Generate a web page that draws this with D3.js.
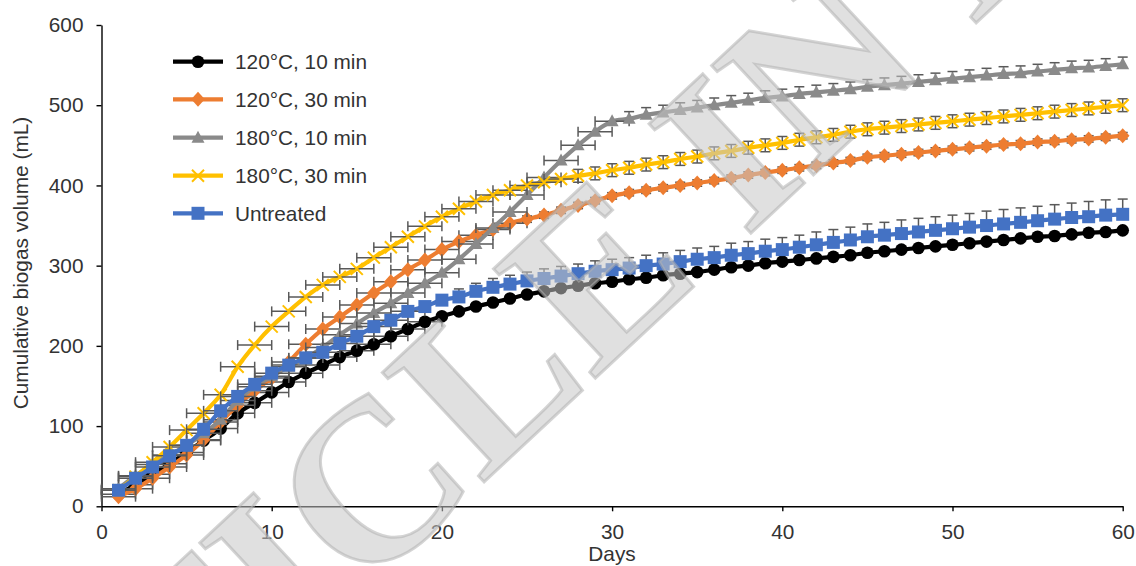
<!DOCTYPE html>
<html>
<head>
<meta charset="utf-8">
<script src="https://cdn.jsdelivr.net/npm/d3@7"></script>
<style>
html,body{margin:0;padding:0;background:#fff;}
svg{display:block;font-family:"Liberation Sans",Arial,sans-serif;}
</style>
</head>
<body>
<svg id="chart" width="1136" height="566"></svg>
<script>
const days = [1,2,3,4,5,6,7,8,9,10,11,12,13,14,15,16,17,18,19,20,21,22,23,24,25,26,27,28,29,30,
  31,32,33,34,35,36,37,38,39,40,41,42,43,44,45,46,47,48,49,50,51,52,53,54,55,56,57,58,59,60];

const seriesNames = ["120°C, 10 min","120°C, 30 min","180°C, 10 min","180°C, 30 min","Untreated"];

const black = [15,27,40,53,67,82,97,116,129,142, 155,166,176,186,194,202,212,221,230,237,
  243,249,254,259,264,268,272,275,278,280, 283,285,288,290,292,295,298,300,303,305,
  307,309,311,313,316,318,320,322,324,326, 328,330,332,334,336,337,339,341,342,344];
const orange = [12,22,35,49,64,83,105,126,144,160, 180,202,221,236,251,266,280,295,307,320,
  330,338,345,353,358,363,369,375,381,387, 391,394,397,400,403,406,409,413,416,419,
  422,425,428,431,435,437,439,441,443,445, 447,449,451,452,454,455,457,458,460,462];
const gray = [22,38,52,64,76,91,108,132,149,162, 174,185,198,214,228,241,253,266,278,291,
  308,327,347,367,388,410,431,450,467,480, 483,488,491,494,497,500,503,506,509,511,
  514,516,518,520,523,525,527,529,531,533, 535,537,539,540,542,544,546,547,549,551];
const yellow = [20,37,55,74,95,116,139,174,201,224, 243,261,276,286,296,310,323,336,349,361,
  371,380,388,394,400,404,408,412,415,419, 422,426,429,433,436,440,443,447,450,453,
  457,460,463,467,470,472,474,476,478,480, 482,484,486,488,490,492,494,496,498,500];
const blue = [20,35,49,63,76,96,119,137,152,166, 176,185,192,203,212,224,232,243,249,257,
  261,268,273,277,281,284,287,290,293,295, 297,300,302,305,308,310,313,315,318,320,
  323,326,329,332,336,338,340,342,344,346, 348,350,352,354,356,358,360,361,363,364];

// horizontal error bars (days) shown up to this day, per series
const xErrLastDay = [19, 24, 30, 27, 18];
const xErrDays = 1;

// vertical error (mL)
const yErrBlack = [0,0,0,0,0,0,0,0,0,0, 0,0,0,0,0,0,0,0,0,0, 0,0,0,0,0,0,0,0,0,0,
  0,0,0,0,0,0,0,0,0,0, 0,0,0,0,0,0,0,0,0,0, 0,0,0,0,0,0,0,0,0,0];
const yErrOrange = [0,0,0,0,0,0,0,0,0,0, 0,0,0,0,0,0,0,0,0,0, 0,0,0,0,4,4,4,4,4,4,
  4,4,4,4,4,4,4,4,4,4, 4,4,4,4,4,4,4,4,4,4, 4,4,4,4,4,4,4,4,4,4];
const yErrGray = [0,0,0,0,0,0,0,0,0,0, 0,0,0,0,0,0,0,0,0,0, 0,0,0,0,0,0,0,0,0,0,
  9,9,9,9,9,9,9,9,9,9, 9,9,9,9,9,9,9,9,9,9, 9,9,9,9,9,9,9,9,9,9];
const yErrYellow = [0,0,0,0,0,0,0,0,0,0, 0,0,0,0,0,0,0,0,0,0, 0,0,0,0,0,0,0,8,8,8,
  8,8,8,8,8,8,8,8,8,8, 8,8,8,8,8,8,8,8,8,8, 8,8,8,8,8,8,8,8,8,8];
const yErrBlue = [0,0,0,0,0,0,0,0,0,0, 0,0,0,0,0,0,0,0,0,0,
  10,10,11,11,11,12,12,12,13,13, 13,13,14,14,14,14,15,15,15,15,
  15,16,16,16,16,16,17,17,17,17, 17,18,18,18,18,18,18,19,19,19];

const xTicks = [0,10,20,30,40,50,60];
const yTicks = [0,100,200,300,400,500,600];

const colors = ["#000000","#ED7D31","#8A8A8A","#FFC000","#4472C4"];
const markers = ["circle","diamond","triangle","x","square"];
const errSides = ["both","both","plus","both","plus"];

const seriesVals = [black, orange, gray, yellow, blue];
const seriesYErr = [yErrBlack, yErrOrange, yErrGray, yErrYellow, yErrBlue];

const svg = d3.select("#chart");
const x = d3.scaleLinear().domain([0,60]).range([101.5,1122.7]);
const y = d3.scaleLinear().domain([0,600]).range([506.3,25]);
const textCol = "#333333";
const fs = "20.8px";

// axes
const yAxis = svg.append("g").attr("transform","translate(101.5,0)")
  .call(d3.axisLeft(y).tickValues(yTicks).tickSize(5).tickSizeOuter(0).tickPadding(13));
const xAxis = svg.append("g").attr("transform","translate(0,506.3)")
  .call(d3.axisBottom(x).tickValues(xTicks).tickSize(5).tickSizeOuter(0).tickPadding(13));
[xAxis,yAxis].forEach(g=>{
  g.selectAll("path.domain").attr("stroke","#000").attr("stroke-width",1.4);
  g.selectAll(".tick line").attr("stroke","#000").attr("stroke-width",1.4);
  g.selectAll(".tick text").attr("fill",textCol).style("font-size",fs)
   .style("font-family","'Liberation Sans',Arial,sans-serif");
});

svg.append("text").attr("x",612).attr("y",561).attr("text-anchor","middle")
  .attr("fill",textCol).style("font-size",fs).text("Days");
svg.append("text").attr("transform","translate(28,263) rotate(-90)").attr("text-anchor","middle")
  .attr("fill",textCol).style("font-size",fs).text("Cumulative biogas volume (mL)");

function markerPath(type){
  if(type==="circle") return d3.symbol(d3.symbolCircle,125)();
  if(type==="square") return "M-6.5,-6.5H6.5V6.5H-6.5Z";
  if(type==="diamond") return "M0,-7.5L6.8,0L0,7.5L-6.8,0Z";
  if(type==="triangle") return "M0,-7L6.5,5L-6.5,5Z";
  if(type==="x") return "M-6,-6L6,6M-6,6L6,-6";
}
function drawMarker(g, type, color, cx, cy){
  const p = g.append("path").attr("d", markerPath(type)).attr("transform",`translate(${cx},${cy})`);
  if(type==="x") p.attr("fill","none").attr("stroke",color).attr("stroke-width",2);
  else p.attr("fill",color);
}

const line = d3.line().x(d=>x(d[0])).y(d=>y(d[1])).curve(d3.curveCatmullRom.alpha(0.5));
const errCol = "#595959";

seriesVals.forEach((vals,si)=>{
  const g = svg.append("g");
  const pts = days.map((d,i)=>[d,vals[i]]);
  g.append("path").datum(pts).attr("d",line).attr("fill","none")
    .attr("stroke",colors[si]).attr("stroke-width",4.2).attr("stroke-linejoin","round");
  const eg = g.append("g").attr("stroke",errCol).attr("stroke-width",1.5).attr("fill","none");
  pts.forEach((p,i)=>{
    const cx = x(p[0]), cy = y(p[1]);
    if(p[0] <= xErrLastDay[si]){
      const x0 = x(p[0]-xErrDays), x1 = x(p[0]+xErrDays);
      eg.append("line").attr("x1",x0).attr("x2",x1).attr("y1",cy).attr("y2",cy);
      eg.append("line").attr("x1",x0).attr("x2",x0).attr("y1",cy-5).attr("y2",cy+5);
      eg.append("line").attr("x1",x1).attr("x2",x1).attr("y1",cy-5).attr("y2",cy+5);
    }
    const e = seriesYErr[si][i];
    if(e>0){
      const yt = y(p[1]+e), yb = errSides[si]==="both" ? y(p[1]-e) : cy;
      eg.append("line").attr("x1",cx).attr("x2",cx).attr("y1",yt).attr("y2",yb);
      eg.append("line").attr("x1",cx-5).attr("x2",cx+5).attr("y1",yt).attr("y2",yt);
      if(errSides[si]==="both")
        eg.append("line").attr("x1",cx-5).attr("x2",cx+5).attr("y1",yb).attr("y2",yb);
    }
  });
  pts.forEach(p=>drawMarker(g, markers[si], colors[si], x(p[0]), y(p[1])));
});

// legend
const legY = [61.7, 99.3, 137.7, 175.7, 213.3];
seriesNames.forEach((n,i)=>{
  const g = svg.append("g");
  g.append("line").attr("x1",173).attr("x2",223).attr("y1",legY[i]).attr("y2",legY[i])
    .attr("stroke",colors[i]).attr("stroke-width",4.2);
  drawMarker(g, markers[i], colors[i], 198, legY[i]);
  g.append("text").attr("x",235).attr("y",legY[i]+7.5).attr("fill",textCol)
    .style("font-size",fs).text(n);
});

// watermark
svg.append("text")
  .attr("transform","translate(668,205) rotate(-43)")
  .attr("text-anchor","middle").attr("dominant-baseline","central")
  .style("font-family","'Liberation Serif','Times New Roman',serif")
  .style("font-size","228px").style("font-weight","bold")
  .attr("fill","#c6c7c6").attr("fill-opacity",0.55)
  .attr("stroke","#b0b0b0").attr("stroke-opacity",0.55).attr("stroke-width",3)
  .text("ARTICLE IN PRESS");
</script>
</body>
</html>
